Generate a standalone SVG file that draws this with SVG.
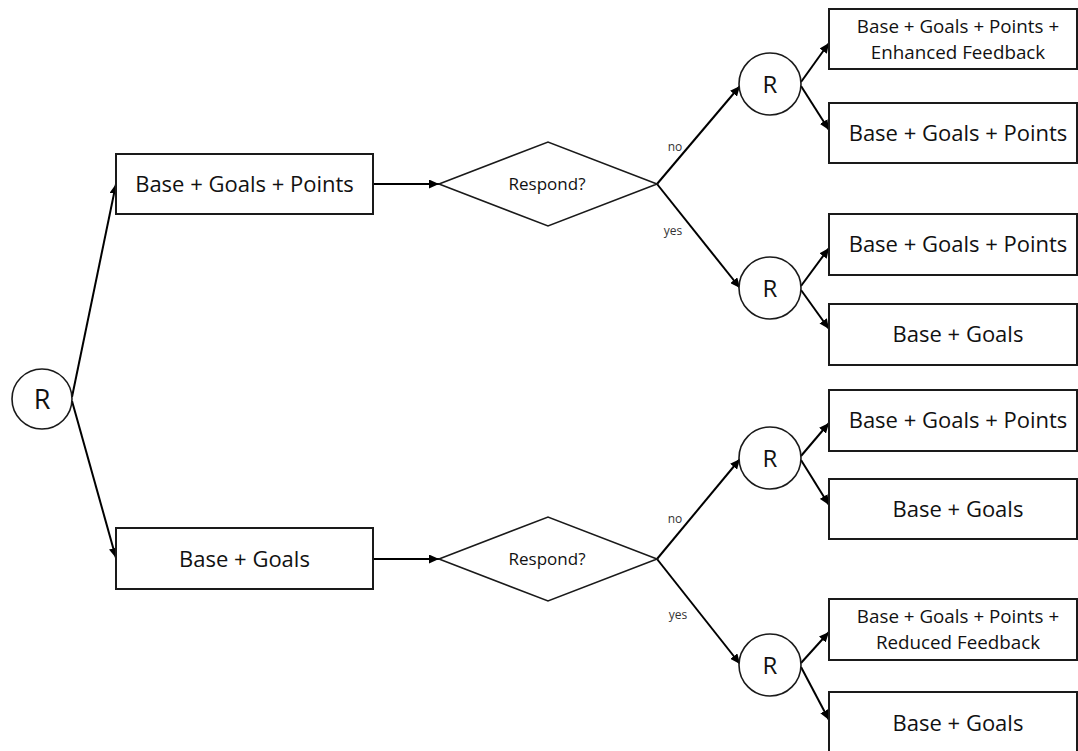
<svg xmlns="http://www.w3.org/2000/svg" width="1078" height="751" viewBox="0 0 1078 751">
<style>
.box{fill:#fff;stroke:#1a1a1a;stroke-width:2}
.circ{fill:#fff;stroke:#1a1a1a;stroke-width:1.6}
.dia{fill:#fff;stroke:#1a1a1a;stroke-width:1.6}
.t{font-family:"Open Sans","Liberation Sans",sans-serif;fill:#111;text-anchor:middle}
.big{font-size:22px}
.sm{font-size:18.8px}
.r1{font-size:27px}
.r2{font-size:24px}
.q{font-size:17px}
.lab{font-family:"Open Sans","Liberation Sans",sans-serif;font-size:12px;fill:#333;text-anchor:middle}
.c{stroke:#000;stroke-width:2;fill:none}
.ca{stroke:#000;stroke-width:2;fill:none;marker-end:url(#ah)}
</style>
<defs>
<marker id="ah" markerUnits="userSpaceOnUse" markerWidth="11" markerHeight="9" refX="10" refY="4.5" orient="auto">
<path d="M0,0 L10,4.5 L0,9 z" fill="#000"/>
</marker>
</defs>
<rect width="1078" height="751" fill="#fff"/>
<g id="connectors">
<line class="ca" x1="72" y1="397" x2="116" y2="184"/>
<line class="ca" x1="72" y1="401" x2="116" y2="558"/>
<line class="ca" x1="373" y1="184" x2="439" y2="184"/>
<line class="ca" x1="373" y1="559" x2="439" y2="559"/>
<line class="ca" x1="657" y1="184" x2="740" y2="86"/>
<line class="ca" x1="657" y1="184" x2="740" y2="288"/>
<line class="ca" x1="657" y1="559" x2="740" y2="459"/>
<line class="ca" x1="657" y1="559" x2="740" y2="664"/>
<line class="ca" x1="801" y1="82" x2="829" y2="43"/>
<line class="ca" x1="801" y1="86" x2="829" y2="130"/>
<line class="ca" x1="801" y1="286" x2="829" y2="248"/>
<line class="ca" x1="801" y1="290" x2="829" y2="329"/>
<line class="ca" x1="801" y1="456" x2="829" y2="423"/>
<line class="ca" x1="801" y1="460" x2="829" y2="505"/>
<line class="ca" x1="801" y1="663" x2="829" y2="632"/>
<line class="ca" x1="801" y1="667" x2="829" y2="720"/>
<text class="lab" x="675" y="151">no</text>
<text class="lab" x="673" y="235">yes</text>
<text class="lab" x="675" y="523">no</text>
<text class="lab" x="678" y="619">yes</text>
</g>
<g id="root"><circle class="circ" cx="42" cy="399" r="30"/><text class="t r1" x="42" y="409">R</text></g>
<g id="box-top"><rect class="box" x="116" y="154" width="257" height="60"/><text class="t big" x="244.5" y="192">Base + Goals + Points</text></g>
<g id="box-bottom"><rect class="box" x="116" y="528" width="257" height="61"/><text class="t big" x="244.5" y="567">Base + Goals</text></g>
<g id="dia-top"><polygon class="dia" points="439,184 548,142 657,184 548,226"/><text class="t q" x="547" y="190">Respond?</text></g>
<g id="dia-bottom"><polygon class="dia" points="439,559 548,517 657,559 548,601"/><text class="t q" x="547" y="565">Respond?</text></g>
<g id="r1"><circle class="circ" cx="770" cy="84" r="31"/><text class="t r2" x="770" y="93">R</text></g>
<g id="r2"><circle class="circ" cx="770" cy="288" r="31"/><text class="t r2" x="770" y="297">R</text></g>
<g id="r3"><circle class="circ" cx="770" cy="458" r="31"/><text class="t r2" x="770" y="467">R</text></g>
<g id="r4"><circle class="circ" cx="770" cy="665" r="31"/><text class="t r2" x="770" y="674">R</text></g>
<g id="leaf1"><rect class="box" x="829" y="9" width="248" height="60"/><text class="t sm" x="958" y="33">Base + Goals + Points +</text><text class="t sm" x="958" y="59">Enhanced Feedback</text></g>
<g id="leaf2"><rect class="box" x="829" y="103" width="248" height="60"/><text class="t big" x="958" y="141">Base + Goals + Points</text></g>
<g id="leaf3"><rect class="box" x="829" y="214" width="248" height="61"/><text class="t big" x="958" y="252">Base + Goals + Points</text></g>
<g id="leaf4"><rect class="box" x="829" y="304" width="248" height="61"/><text class="t big" x="958" y="342">Base + Goals</text></g>
<g id="leaf5"><rect class="box" x="829" y="390" width="248" height="61"/><text class="t big" x="958" y="428">Base + Goals + Points</text></g>
<g id="leaf6"><rect class="box" x="829" y="479" width="248" height="60"/><text class="t big" x="958" y="517">Base + Goals</text></g>
<g id="leaf7"><rect class="box" x="829" y="599" width="248" height="61"/><text class="t sm" x="958" y="623">Base + Goals + Points +</text><text class="t sm" x="958" y="649">Reduced Feedback</text></g>
<g id="leaf8"><rect class="box" x="829" y="692" width="248" height="70"/><text class="t big" x="958" y="731">Base + Goals</text></g>
</svg>
